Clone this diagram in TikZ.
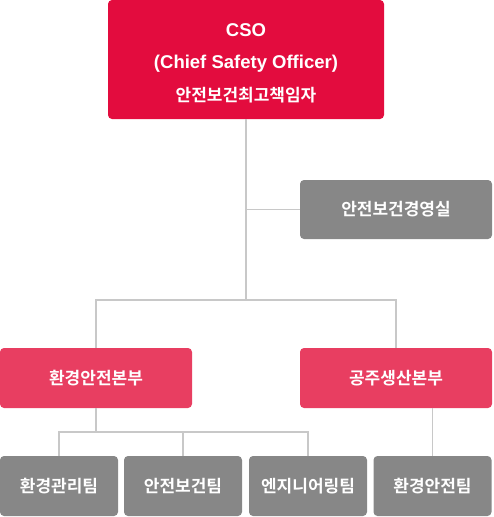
\documentclass[tikz,border=0pt]{standalone}
\usepackage{fontspec}
\setmainfont{Noto Sans CJK KR}
\newfontfamily\krbold{Noto Sans CJK KR Bold}
\newfontfamily\latbold{Liberation Sans}
\usepackage{xcolor}
\usepackage{tikz}
\usetikzlibrary{positioning,calc}
\definecolor{ceo}{HTML}{E30C3E}
\definecolor{division}{HTML}{E83E61}
\definecolor{team}{HTML}{878787}
\definecolor{wire}{HTML}{C8C8C8}

\begin{document}
\begin{tikzpicture}[x=1pt, y=-1pt,
  box/.style={rounded corners=4pt, inner sep=0pt, text=white, align=center,
    font=\krbold\fontsize{17}{32.5}\selectfont},
  ceobox/.style={box, fill=ceo, minimum width=276pt, minimum height=119pt},
  divbox/.style={box, fill=division, minimum width=192pt, minimum height=60pt},
  teambox/.style={box, fill=team, minimum width=118pt, minimum height=60pt},
  link/.style={draw=wire, line width=1.5pt}]
\useasboundingbox (0,0) rectangle (493,517);
% top
\node[ceobox] (cso) at (246,59.5) {};
\node[box] (csotext) at ($(cso.center)+(0,3.5)$)
  {{\latbold\bfseries\fontsize{18.5}{32.5}\selectfont CSO}\\
   {\latbold\bfseries\fontsize{18.5}{32.5}\selectfont (Chief Safety Officer)}\\
   안전보건최고책임자};
\node[teambox, minimum width=192pt, minimum height=59pt] (office) at (396,209.5) {안전보건경영실};
% divisions
\node[divbox] (env) at (96,378) {환경안전본부};
\node[divbox] (plant) at (396,378) {공주생산본부};
% teams
\node[teambox] (t1) at (59,486) {환경관리팀};
\node[teambox] (t2) at (183,486) {안전보건팀};
\node[teambox] (t3) at (308,486) {엔지니어링팀};
\node[teambox] (t4) at (432.5,486) {환경안전팀};
\coordinate (hub) at (246,300);
\coordinate (split) at (96,432);
% connectors
\draw[link] (cso.south) -- (hub);
\draw[link] (cso.south |- office.west) -- (office.west);
\draw[link] (env.north) |- (hub) -| (plant.north);
\draw[link] (env.south) -- (split);
\draw[link] (t1.north) |- (split) -| (t3.north);
\draw[link] (t2.north) -- (t2.north |- split);
\draw[link] (t4.north) -- (t4.north |- plant.south);
\end{tikzpicture}
\end{document}
